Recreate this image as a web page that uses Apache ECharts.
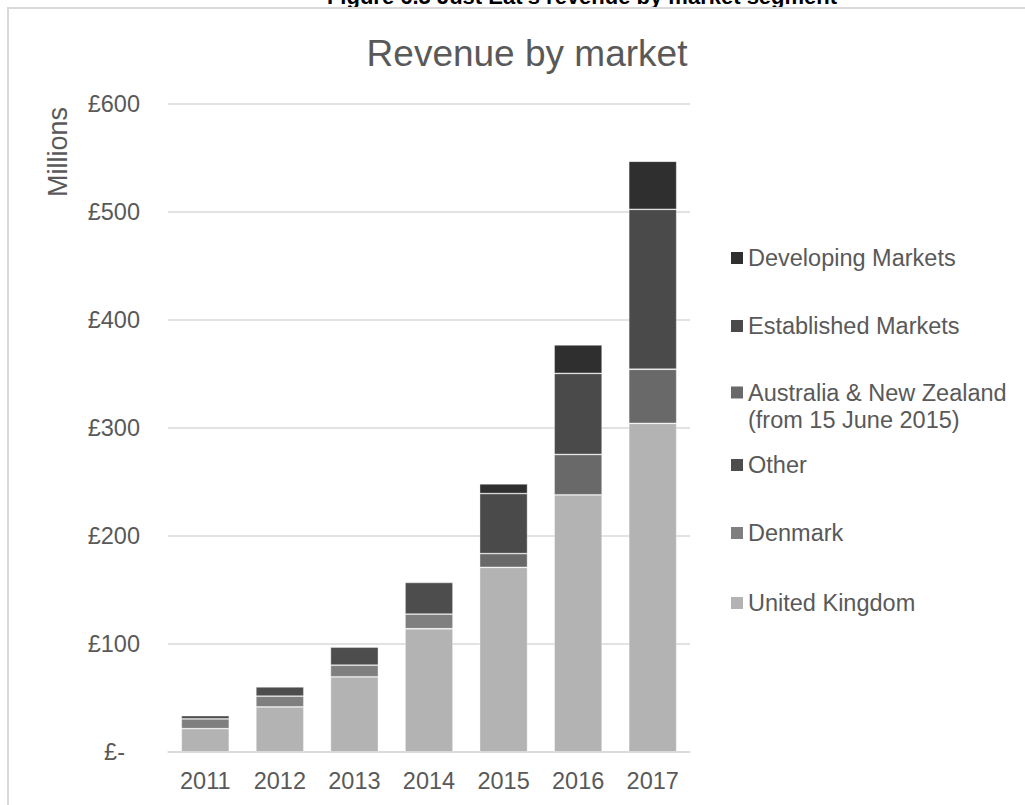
<!DOCTYPE html>
<html>
<head>
<meta charset="utf-8">
<title>Revenue by market</title>
<script src="https://cdn.jsdelivr.net/npm/echarts@6/dist/echarts.min.js"></script>
<style>
  html, body { margin: 0; padding: 0; background: #ffffff; }
  #chart { width: 1025px; height: 805px; }
</style>
</head>
<body>
<div id="chart"></div>
<script>
// Revenue by market segment, £ millions
const years = ['2011', '2012', '2013', '2014', '2015', '2016', '2017'];
const unitedKingdom      = [21.6, 41.7, 69.6, 114.1, 171.0, 238.1, 304.3];
const denmark            = [9.0, 10.0, 10.8, 13.6, null, null, null];
const other              = [3.1, 8.6, 16.7, 29.3, null, null, null];
const australiaNz        = [null, null, null, null, 12.7, 37.4, 50.1];
const establishedMarkets = [null, null, null, null, 55.6, 75.1, 148.1];
const developingMarkets  = [null, null, null, null, 9.0, 26.3, 44.5];

const yMin = 0, yMax = 600, yStep = 100;

const FONT = "'Liberation Sans', Arial, Helvetica, sans-serif";
const TEXT = '#595959';
const GRID_LINE = '#d9d9d9';

const seriesDefs = [
  { name: 'United Kingdom', data: unitedKingdom, color: '#b3b3b3' },
  { name: 'Denmark', data: denmark, color: '#7f7f7f' },
  { name: 'Other', data: other, color: '#4d4d4d' },
  { name: 'Australia & New Zealand\n(from 15 June 2015)', data: australiaNz, color: '#696969' },
  { name: 'Established Markets', data: establishedMarkets, color: '#4a4a4a' },
  { name: 'Developing Markets', data: developingMarkets, color: '#2f2f2f' }
];

// one legend block per entry so the spacing follows the two-line label
function legendBlock(name, top, lineHeight, formatter) {
  const block = {
    data: [name],
    orient: 'vertical',
    left: 731,
    top: top,
    padding: 0,
    itemGap: 0,
    itemWidth: 12,
    itemHeight: 12,
    icon: 'rect',
    selectedMode: false,
    itemStyle: { borderWidth: 0 },
    textStyle: { color: TEXT, fontSize: 23.5, fontFamily: FONT, lineHeight: lineHeight }
  };
  if (formatter) block.formatter = formatter;
  return block;
}

const chart = echarts.init(document.getElementById('chart'), null, { renderer: 'svg' });

chart.setOption({
  animation: false,
  backgroundColor: '#ffffff',
  textStyle: { fontFamily: FONT },
  title: {
    text: 'Revenue by market',
    left: 522,
    textAlign: 'center',
    top: 30,
    textStyle: { fontSize: 37, fontWeight: 'normal', color: TEXT, fontFamily: FONT }
  },
  graphic: [
    {
      type: 'text',
      z: -20,
      x: 582,
      y: 7,
      style: {
        text: "Figure 6.5 Just Eat's revenue by market segment",
        font: "bold 22px " + FONT,
        fill: '#000000',
        align: 'center',
        verticalAlign: 'bottom'
      }
    },
    {
      type: 'rect',
      z: -10,
      shape: { x: 8, y: 8, width: 1040, height: 830 },
      style: { fill: '#ffffff', stroke: GRID_LINE, lineWidth: 2 }
    },
    {
      type: 'text',
      x: 58,
      y: 152,
      rotation: Math.PI / 2,
      style: {
        text: 'Millions',
        font: '27px ' + FONT,
        fill: TEXT,
        align: 'center',
        verticalAlign: 'middle'
      }
    }
  ],
  legend: [
    legendBlock('Developing Markets', 243, 30),
    legendBlock('Established Markets', 311, 30),
    // a leading blank line keeps the marker level with the first line of text
    legendBlock('Australia & New Zealand\n(from 15 June 2015)', 352, 27, function (n) { return '\n' + n; }),
    legendBlock('Other', 450, 30),
    legendBlock('Denmark', 518, 30),
    legendBlock('United Kingdom', 588, 30)
  ],
  grid: {
    left: 168,
    right: 335,
    top: 104,
    bottom: 53,
    containLabel: false,
    outerBoundsMode: 'none'
  },
  xAxis: {
    type: 'category',
    data: years,
    axisLine: { show: true, lineStyle: { color: GRID_LINE, width: 1.5 } },
    axisTick: { show: false },
    axisLabel: { color: TEXT, fontSize: 23.5, fontFamily: FONT, margin: 17 }
  },
  yAxis: {
    type: 'value',
    min: yMin,
    max: yMax,
    interval: yStep,
    axisLine: { show: false },
    axisTick: { show: false },
    splitLine: { show: true, lineStyle: { color: GRID_LINE, width: 1.5 } },
    axisLabel: {
      color: TEXT,
      fontSize: 23.5,
      fontFamily: FONT,
      margin: 28,
      formatter: function (v) { return v === 0 ? '{z|£-}' : '£' + v; },
      rich: { z: { color: TEXT, fontSize: 23.5, fontFamily: FONT, padding: [0, 15, 0, 0] } }
    }
  },
  series: seriesDefs.map(function (s) {
    return {
      name: s.name,
      type: 'bar',
      stack: 'revenue',
      barWidth: 48,
      data: s.data,
      itemStyle: { color: s.color, borderColor: 'rgba(255,255,255,0.45)', borderWidth: 0.8 },
      emphasis: { disabled: true }
    };
  })
});
</script>
</body>
</html>
